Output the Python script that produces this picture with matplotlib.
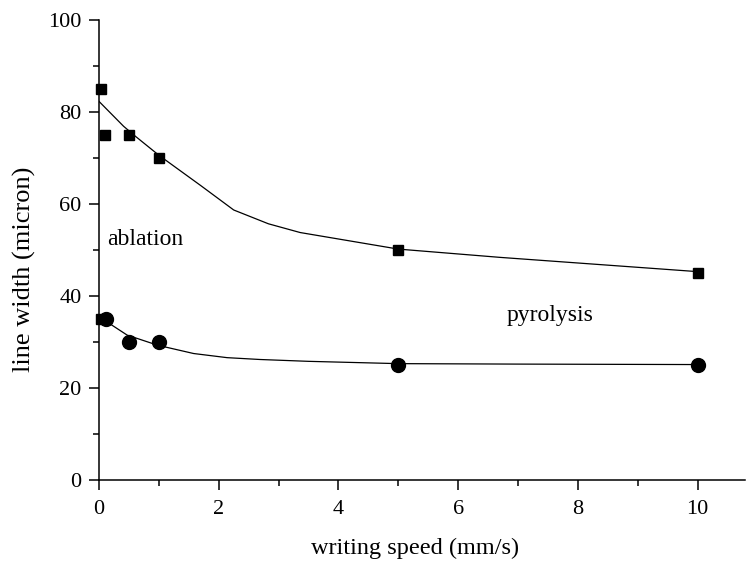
import matplotlib
matplotlib.use("Agg")
import matplotlib.pyplot as plt
from matplotlib.ticker import MultipleLocator

plt.rcParams['font.family'] = ['Liberation Serif', 'DejaVu Serif']

# measured data
abl_x = [0.04, 0.1, 0.5, 1.0, 5.0, 10.0]
abl_y = [85, 75, 75, 70, 50, 45]
pyr_x = [0.12, 0.5, 1.0, 5.0, 10.0]
pyr_y = [35, 30, 30, 25, 25]
extra_x = [0.03]
extra_y = [35]

# fitted curves
abl_fit_x = [0.0, 0.41, 0.61, 1.0, 1.7, 2.25, 2.83, 3.36, 5.0, 6.7, 10.0]
abl_fit_y = [82.3, 76.9, 74.7, 70.6, 64.0, 58.7, 55.7, 53.8, 50.2, 48.4, 45.3]
pyr_fit_x = [0.0, 0.47, 0.98, 1.58, 2.14, 2.69, 3.5, 5.0, 7.0, 10.0]
pyr_fit_y = [35.5, 31.5, 29.3, 27.5, 26.6, 26.2, 25.8, 25.3, 25.2, 25.1]

fig = plt.figure(figsize=(7.48, 5.65), dpi=100)
ax = fig.add_axes([0.1324, 0.1504, 0.8642, 0.8142])

ax.plot(abl_fit_x, abl_fit_y, color='black', lw=0.9)
ax.plot(pyr_fit_x, pyr_fit_y, color='black', lw=0.9)
ax.plot(abl_x, abl_y, 's', color='black', ms=7.2, clip_on=False, zorder=3)
ax.plot(extra_x, extra_y, 's', color='black', ms=7.2, clip_on=False, zorder=3)
ax.plot(pyr_x, pyr_y, 'o', color='black', ms=10, clip_on=False, zorder=4)

ax.text(0.14, 52.3, 'ablation', fontsize=17, va='center', ha='left')
ax.text(7.54, 35.8, 'pyrolysis', fontsize=17, va='center', ha='center')

ax.set_xlim(0, 10.8)
ax.set_ylim(0, 100)
ax.xaxis.set_major_locator(MultipleLocator(2))
ax.xaxis.set_minor_locator(MultipleLocator(1))
ax.yaxis.set_major_locator(MultipleLocator(20))
ax.yaxis.set_minor_locator(MultipleLocator(10))

for s in ['top', 'right']:
    ax.spines[s].set_visible(False)
for s in ['left', 'bottom']:
    ax.spines[s].set_linewidth(1.1)

ax.tick_params(which='major', direction='out', length=7.5, width=1.1, labelsize=16, pad=5)
ax.tick_params(which='minor', direction='out', length=4.5, width=1.1)
ax.tick_params(axis='x', which='major', pad=7)

ax.set_xlabel('writing speed (mm/s)', fontsize=17.5, labelpad=12)
ax.xaxis.set_label_coords(0.489, -0.125)
ax.set_ylabel('line width (micron)', fontsize=19)
ax.yaxis.set_label_coords(-0.097, 0.457)

fig.savefig('out.png', dpi=100)
